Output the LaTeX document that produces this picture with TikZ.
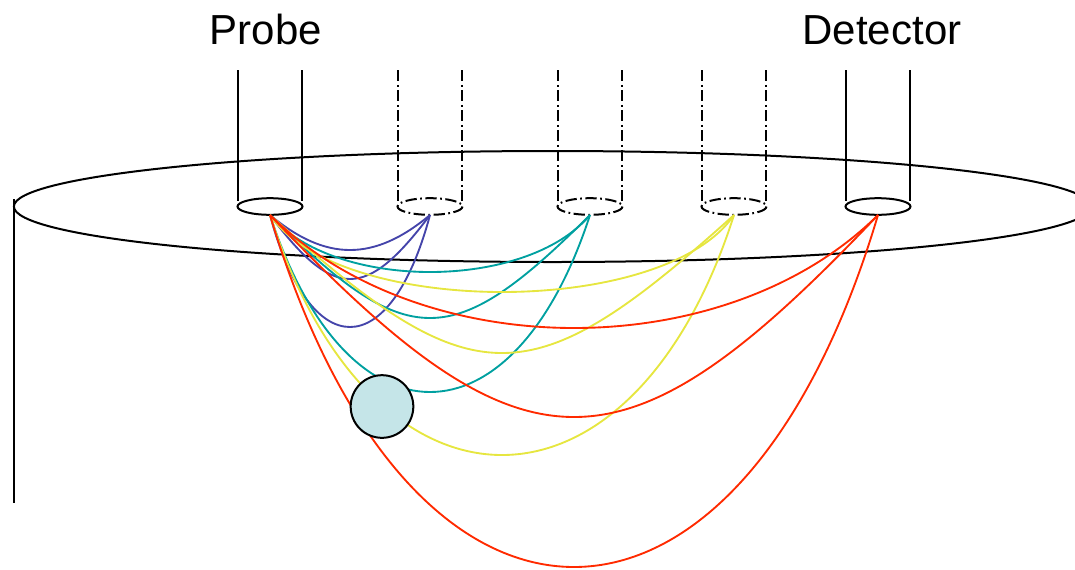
\documentclass[tikz,border=0pt]{standalone}
\usepackage{fontspec}
\setmainfont{Liberation Sans}
\usetikzlibrary{calc}
\definecolor{rayblue}{RGB}{68,68,170}
\definecolor{rayteal}{RGB}{0,160,160}
\definecolor{rayyellow}{RGB}{230,230,64}
\definecolor{rayred}{RGB}{255,42,0}
\definecolor{ballfill}{RGB}{197,229,232}
% photon path from the probe to a port: #1 colour, #2 port, #3 span, #4 shape ratio, #5 depth
\newcommand\photonpath[5]{%
  \draw[ray,#1] (probe) .. controls ($(probe)+({#3*#4},{#5*4/3})$)
    and ($(#2)+({-#3*#4},{#5*4/3})$) .. (#2);}
\begin{document}
\begin{tikzpicture}[x=0.75pt,y=-0.75pt,
  outline/.style={line width=1.5pt,black},
  dashdot/.style={line width=1.5pt,black,dash pattern=on 8.5pt off 2.6pt on 1.3pt off 2.6pt},
  ray/.style={line width=1.4pt},
  label/.style={font=\fontsize{31.5}{36}\selectfont,anchor=base,inner sep=0pt}]
\useasboundingbox (0,0) rectangle (1075,569);
\clip (0,0) rectangle (1075,569);

% tissue cylinder: top surface and left wall
\draw[outline] (552.5,206.5) ellipse (538.6 and 55.5);
\draw[outline] (14,199) -- (14,503);

% fibre tubes
\foreach \cx in {270,878}{
  \draw[outline] (\cx-32,70) -- (\cx-32,201);
  \draw[outline] (\cx+32,70) -- (\cx+32,201);
  \draw[outline] (\cx,206.5) ellipse (32.5 and 8.3);
}
\foreach \cx in {430,590,734}{
  \draw[dashdot] (\cx-32,70) -- (\cx-32,201);
  \draw[dashdot] (\cx+32,70) -- (\cx+32,201);
  \draw[dashdot] (\cx,206.5) ellipse (32.5 and 8.3);
}

% tube outlets
\coordinate (probe) at (270,215);
\coordinate (portA) at (430,215);
\coordinate (portB) at (590,215);
\coordinate (portC) at (734,215);
\coordinate (det) at (878,215);

% photon banana paths
\photonpath{rayblue}{portA}{160}{0.35}{35}
\photonpath{rayblue}{portA}{160}{0.40}{64}
\photonpath{rayblue}{portA}{160}{0.25}{112}
\photonpath{rayteal}{portB}{320}{0.20}{57}
\photonpath{rayteal}{portB}{320}{0.43}{103}
\photonpath{rayteal}{portB}{320}{0.24}{177}
\photonpath{rayyellow}{portC}{464}{0.15}{77}
\photonpath{rayyellow}{portC}{464}{0.44}{138}
\photonpath{rayyellow}{portC}{464}{0.22}{240}
\photonpath{rayred}{det}{608}{0.25}{113}
\photonpath{rayred}{det}{608}{0.42}{202}
\photonpath{rayred}{det}{608}{0.23}{352}

% absorber
\node[circle,draw=black,line width=1.5pt,fill=ballfill,minimum size=47pt,inner sep=0pt] (ball) at (382,406.5) {};

% labels
\node[label] (probelabel) at (266,44) {Probe};
\node[label] (detlabel) at (882,44) {Detector};
\end{tikzpicture}
\end{document}
